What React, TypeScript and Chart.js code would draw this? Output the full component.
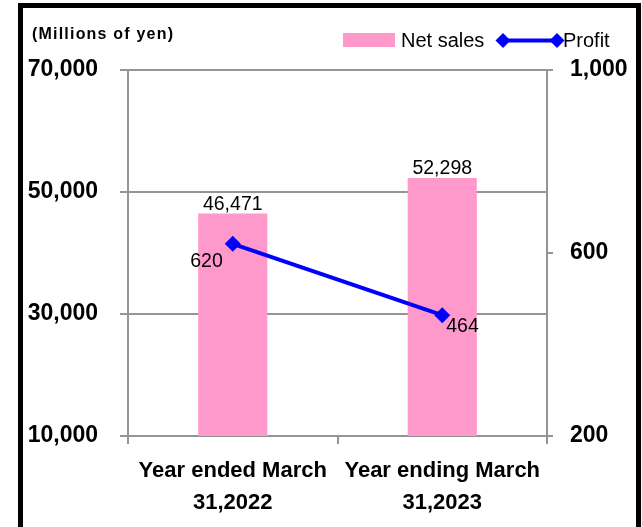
import { useEffect, useRef } from "react";
import { Chart, registerables } from "chart.js";

Chart.register(...registerables);

const categories = [
  ["Year ended March", "31,2022"],
  ["Year ending March", "31,2023"],
];
const netSales = [46471, 52298];
const profit = [620, 464];
const salesTicks = [10000, 30000, 50000, 70000];
const profitTicks = [200, 600, 1000];
const unitLabel = "(Millions of yen)";
const seriesNames = ["Net sales", "Profit"];

const FONT = "'Liberation Sans', Arial, sans-serif";
const PINK = "#FF99CC";
const BLUE = "#0000FF";
const GRID = "#949494";

const profitLabelStyle = [
  { dx: -10, dy: 23, align: "right" },
  { dx: 4, dy: 17, align: "left" },
];

const fmt = (v: number) => v.toLocaleString("en-US");

const drawDiamond = (ctx: CanvasRenderingContext2D, x: number, y: number, r: number) => {
  ctx.beginPath();
  ctx.moveTo(x, y - r);
  ctx.lineTo(x + r, y);
  ctx.lineTo(x, y + r);
  ctx.lineTo(x - r, y);
  ctx.closePath();
  ctx.fill();
};

const overlayPlugin = {
  id: "overlay",
  afterDatasetsDraw(chart: any) {
    const ctx: CanvasRenderingContext2D = chart.ctx;
    ctx.save();
    ctx.fillStyle = "#000";
    ctx.font = `19.5px ${FONT}`;
    ctx.textBaseline = "alphabetic";
    const barMeta = chart.getDatasetMeta(0);
    barMeta.data.forEach((el: any, i: number) => {
      ctx.textAlign = "center";
      ctx.fillText(fmt(netSales[i]), el.x, el.y - 4);
    });
    const lineMeta = chart.getDatasetMeta(1);
    lineMeta.data.forEach((el: any, i: number) => {
      const s = profitLabelStyle[i];
      ctx.textAlign = s.align as CanvasTextAlign;
      ctx.fillText(fmt(profit[i]), el.x + s.dx, el.y + s.dy);
    });
    ctx.restore();
  },
  afterDraw(chart: any) {
    const ctx: CanvasRenderingContext2D = chart.ctx;
    ctx.save();
    // unit title
    ctx.fillStyle = "#000";
    ctx.font = `bold 16px ${FONT}`;
    (ctx as any).letterSpacing = "1.2px";
    ctx.textAlign = "left";
    ctx.textBaseline = "alphabetic";
    ctx.fillText(unitLabel, 32, 39);
    (ctx as any).letterSpacing = "0px";
    // legend
    ctx.fillStyle = PINK;
    ctx.fillRect(343, 33, 52, 14);
    ctx.fillStyle = "#000";
    ctx.font = `20px ${FONT}`;
    ctx.fillText(seriesNames[0], 401, 47);
    ctx.strokeStyle = BLUE;
    ctx.lineWidth = 4;
    ctx.beginPath();
    ctx.moveTo(503, 40.5);
    ctx.lineTo(557, 40.5);
    ctx.stroke();
    ctx.fillStyle = BLUE;
    drawDiamond(ctx, 503, 40.5, 7.5);
    drawDiamond(ctx, 557, 40.5, 7.5);
    ctx.fillStyle = "#000";
    ctx.fillText(seriesNames[1], 563, 47);
    ctx.restore();
  },
};

export default function App() {
  const ref = useRef<HTMLCanvasElement | null>(null);

  useEffect(() => {
    if (!ref.current) return;
    const chart = new Chart(ref.current, {
      type: "bar",
      data: {
        labels: categories as any,
        datasets: [
          {
            type: "bar",
            label: seriesNames[0],
            data: netSales,
            backgroundColor: PINK,
            borderWidth: 0,
            yAxisID: "y",
            order: 1,
            barPercentage: 0.33,
            categoryPercentage: 1,
          },
          {
            type: "line",
            label: seriesNames[1],
            data: profit,
            borderColor: BLUE,
            backgroundColor: BLUE,
            borderWidth: 4,
            pointStyle: "rectRot",
            pointRadius: 8,
            pointBorderWidth: 0,
            pointBackgroundColor: BLUE,
            tension: 0,
            yAxisID: "y1",
            order: 0,
          } as any,
        ],
      },
      options: {
        responsive: false,
        animation: false,
        devicePixelRatio: 1,
        layout: { padding: { top: 70, left: 0, right: 0, bottom: 0 } },
        plugins: {
          legend: { display: false },
          tooltip: { enabled: false },
        },
        scales: {
          x: {
            type: "category",
            offset: true,
            grid: {
              display: true,
              offset: true,
              drawOnChartArea: false,
              drawTicks: true,
              tickLength: 8,
              color: GRID,
              lineWidth: 2,
            },
            border: { display: true, color: GRID, width: 2 },
            ticks: {
              color: "#000",
              padding: 11,
              maxRotation: 0,
              minRotation: 0,
              autoSkip: false,
              font: { family: FONT, size: 22, weight: "bold", lineHeight: 1.45 },
            },
            afterFit: (s: any) => {
              s.height = 91;
            },
          },
          y: {
            type: "linear",
            position: "left",
            min: salesTicks[0],
            max: salesTicks[salesTicks.length - 1],
            afterBuildTicks: (s: any) => {
              s.ticks = salesTicks.map((v) => ({ value: v }));
            },
            grid: {
              color: GRID,
              lineWidth: 2,
              tickLength: 8,
              drawTicks: true,
            },
            border: { display: true, color: GRID, width: 2 },
            ticks: {
              color: "#000",
              padding: 22,
              callback: (v: any) => fmt(Number(v)),
              font: { family: FONT, size: 23, weight: "bold" },
            },
            afterFit: (s: any) => {
              s.width = 128;
            },
          },
          y1: {
            type: "linear",
            position: "right",
            min: profitTicks[0],
            max: profitTicks[profitTicks.length - 1],
            afterBuildTicks: (s: any) => {
              s.ticks = profitTicks.map((v) => ({ value: v }));
            },
            grid: {
              drawOnChartArea: false,
              color: GRID,
              lineWidth: 2,
              tickLength: 6,
              drawTicks: true,
            },
            border: { display: true, color: GRID, width: 2 },
            ticks: {
              color: "#000",
              padding: 17,
              callback: (v: any) => fmt(Number(v)),
              font: { family: FONT, size: 23, weight: "bold" },
            },
            afterFit: (s: any) => {
              s.width = 95;
            },
          },
        },
      } as any,
      plugins: [overlayPlugin],
    });
    return () => chart.destroy();
  }, []);

  return (
    <div
      style={{
        position: "absolute",
        left: 0,
        top: 0,
        width: 642,
        height: 527,
        overflow: "hidden",
        background: "#fff",
      }}
    >
      <div
        style={{
          position: "absolute",
          left: 18,
          top: 3,
          width: 623,
          height: 560,
          boxSizing: "border-box",
          border: "5px solid #000",
        }}
      />
      <canvas
        ref={ref}
        width={642}
        height={527}
        style={{ position: "absolute", left: 0, top: 0, width: 642, height: 527 }}
      />
    </div>
  );
}
